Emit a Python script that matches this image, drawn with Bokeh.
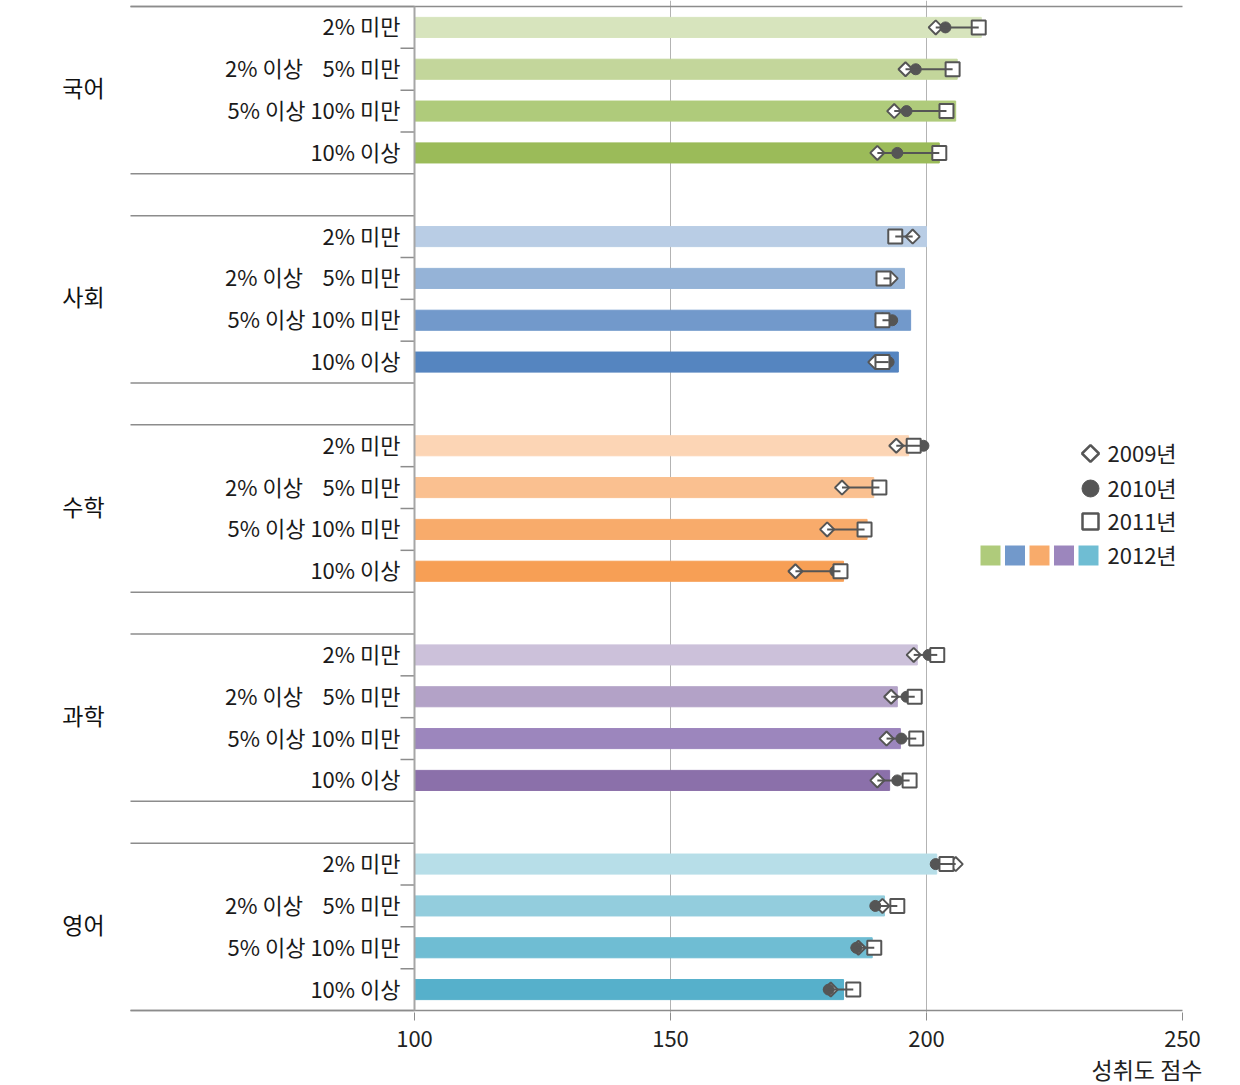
from bokeh.plotting import figure
from bokeh.models import ColumnDataSource, FixedTicker, Title, Range1d
from bokeh.core.properties import value
from bokeh.embed import file_html
from bokeh.resources import INLINE

# ---------------- data ----------------
subjects = ["국어", "사회", "수학", "과학", "영어"]
levels = ["2% 미만", "2% 이상\u00a0\u00a0\u00a0 5% 미만", "5% 이상 10% 미만", "10% 이상"]

score_2009 = [201.8, 195.9, 193.7, 190.4,
              197.3, 193.0, 191.4, 190.0,
              194.1, 183.5, 180.6, 174.4,
              197.5, 193.1, 192.2, 190.4,
              205.7, 191.4, 186.7, 181.3]
score_2010 = [203.7, 197.9, 196.1, 194.3,
              194.0, 191.8, 193.3, 192.6,
              199.4, 190.8, 187.9, 182.2,
              200.4, 196.1, 195.1, 194.3,
              201.8, 190.0, 186.3, 180.9]
score_2011 = [210.2, 205.1, 203.9, 202.5,
              193.9, 191.6, 191.4, 191.4,
              197.5, 190.8, 187.9, 183.2,
              202.1, 197.7, 198.0, 196.7,
              203.9, 194.3, 189.8, 185.7]
score_2012 = [210.7, 206.0, 205.7, 202.5,
              200.0, 195.7, 196.9, 194.5,
              196.5, 189.7, 188.4, 183.8,
              198.2, 194.3, 194.9, 192.8,
              202.0, 191.8, 189.4, 183.8]

x_ticks = [100, 150, 200, 250]
year_labels = ["2009년", "2010년", "2011년", "2012년"]
axis_title = "성취도 점수"

palette = [
    ["#d7e4bd", "#c3d69b", "#afcb7b", "#9bbb59"],
    ["#b9cde5", "#95b3d7", "#7299cb", "#5585c0"],
    ["#fcd5b5", "#fac090", "#f8ab6b", "#f79f55"],
    ["#ccc1da", "#b3a2c7", "#9c86bd", "#8b70aa"],
    ["#b7dee8", "#93cddd", "#6fbdd3", "#56b0cb"],
]

# ---------------- layout helpers ----------------
FONT = "Noto Sans CJK KR"
PX_PER_UNIT = 5.12
TOP_PX, BOT_PX = 6.0, 1010.0
SLOT_PX = (BOT_PX - TOP_PX) / 24.0


def px2x(page_x):
    return 100 + (page_x - 414) / PX_PER_UNIT


def px2y(page_y):
    return (page_y - TOP_PX) / SLOT_PX


FRAME_W, FRAME_H = 1236, 1012
x_start = px2x(0)
x_end = x_start + FRAME_W / PX_PER_UNIT

p = figure(frame_width=FRAME_W, frame_height=FRAME_H,
           x_range=Range1d(x_start, x_end),
           y_range=Range1d(px2y(FRAME_H), px2y(0)),
           y_axis_location=None, x_axis_location="below",
           output_backend="svg", toolbar_location=None,
           min_border_left=0, min_border_right=0, min_border_top=0,
           min_border_bottom=0)
p.outline_line_color = None
p.background_fill_color = "white"
p.border_fill_color = "white"

# grid
p.ygrid.visible = False
p.xgrid.ticker = FixedTicker(ticks=[150, 200])
p.xgrid.grid_line_color = "#b3b3b3"
p.xgrid.grid_line_width = 1

# x axis
ax = p.xaxis[0]
ax.ticker = FixedTicker(ticks=x_ticks)
ax.axis_line_color = None
ax.major_tick_line_color = "#8c8c8c"
ax.major_tick_line_width = 1
ax.major_tick_out = 8
ax.major_tick_in = 0
ax.minor_tick_line_color = None
ax.major_label_text_font = FONT
ax.major_label_text_font_size = "22px"
ax.major_label_text_color = "#222222"
ax.major_label_standoff = 10

# axis title, right-aligned under the 250 tick
p.add_layout(Title(text=axis_title, align="right", offset=34, standoff=0,
                   text_font=FONT, text_font_size="23px",
                   text_font_style="normal", text_color="#222222"), "below")

# ---------------- bars & markers ----------------
ys, colors = [], []
for g in range(len(subjects)):
    for r in range(len(levels)):
        ys.append(g * 5 + r + 0.5)
        colors.append(palette[g][r])

lo = [min(a, b, c) for a, b, c in zip(score_2009, score_2010, score_2011)]
hi = [max(a, b, c) for a, b, c in zip(score_2009, score_2010, score_2011)]
src = ColumnDataSource(dict(y=ys, v09=score_2009, v10=score_2010, v11=score_2011,
                            v12=score_2012, color=colors, lo=lo, hi=hi,
                            lab=levels * len(subjects)))

p.hbar(y="y", left=100, right="v12", height=0.48, color="color", source=src)

MK = "#555555"
p.scatter(x="v09", y="y", marker="square", angle=0.7854, size=10,
          fill_color="white", line_color=MK, line_width=2, source=src)
p.scatter(x="v10", y="y", marker="circle", size=11,
          fill_color=MK, line_color=MK, source=src)
p.scatter(x="v11", y="y", marker="square", size=14,
          fill_color="white", line_color=MK, line_width=2, source=src)
p.segment(x0="lo", y0="y", x1="hi", y1="y", line_color=MK, line_width=2, source=src)

# ---------------- category frame lines ----------------
LINE = "#8c8c8c"
left_edge = px2x(130)
p.segment(x0=[left_edge, left_edge], y0=[0, 24], x1=[250, 250], y1=[0, 24],
          line_color=LINE, line_width=1.5)
sep_y = []
for g in range(len(subjects)):
    sep_y += [g * 5, g * 5 + 4]
p.segment(x0=[left_edge] * len(sep_y), y0=sep_y, x1=[100] * len(sep_y), y1=sep_y,
          line_color=LINE, line_width=1.5)
tick_y = [g * 5 + r for g in range(len(subjects)) for r in (1, 2, 3)]
p.segment(x0=[px2x(400)] * len(tick_y), y0=tick_y, x1=[100] * len(tick_y), y1=tick_y,
          line_color=LINE, line_width=1.5)
p.segment(x0=[100], y0=[0], x1=[100], y1=[24], line_color="#a6a6a6", line_width=2)

# ---------------- labels ----------------
p.text(x=px2x(400), y="y", text="lab", source=src, text_align="right",
       text_baseline="middle", y_offset=-2, text_font=value(FONT),
       text_font_size="22px", text_color="#1a1a1a")
p.text(x=[px2x(83)] * len(subjects), y=[g * 5 + 2 for g in range(len(subjects))],
       text=subjects, text_align="center", text_baseline="middle", y_offset=-3,
       text_font=value(FONT), text_font_size="23px", text_color="#111111")

# ---------------- legend ----------------
lx = px2x(1090)
ly = [px2y(453), px2y(488), px2y(521), px2y(555)]
p.scatter(x=[lx], y=[ly[0]], marker="square", angle=0.7854, size=12,
          fill_color="white", line_color=MK, line_width=2.5)
p.scatter(x=[lx], y=[ly[1]], marker="circle", size=17, fill_color=MK, line_color=MK)
p.scatter(x=[lx], y=[ly[2]], marker="square", size=16,
          fill_color="white", line_color=MK, line_width=2.5)
sw_x = [px2x(990 + 24.5 * i) for i in range(5)]
p.scatter(x=sw_x, y=[ly[3]] * 5, marker="square", size=20,
          fill_color=[pal[2] for pal in palette], line_color=None)
p.text(x=[px2x(1107)] * 4, y=ly, text=year_labels, text_align="left",
       text_baseline="middle", y_offset=-2, text_font=value(FONT),
       text_font_size="22px", text_color="#222222")

open("out.html", "w").write(file_html(p, INLINE))
